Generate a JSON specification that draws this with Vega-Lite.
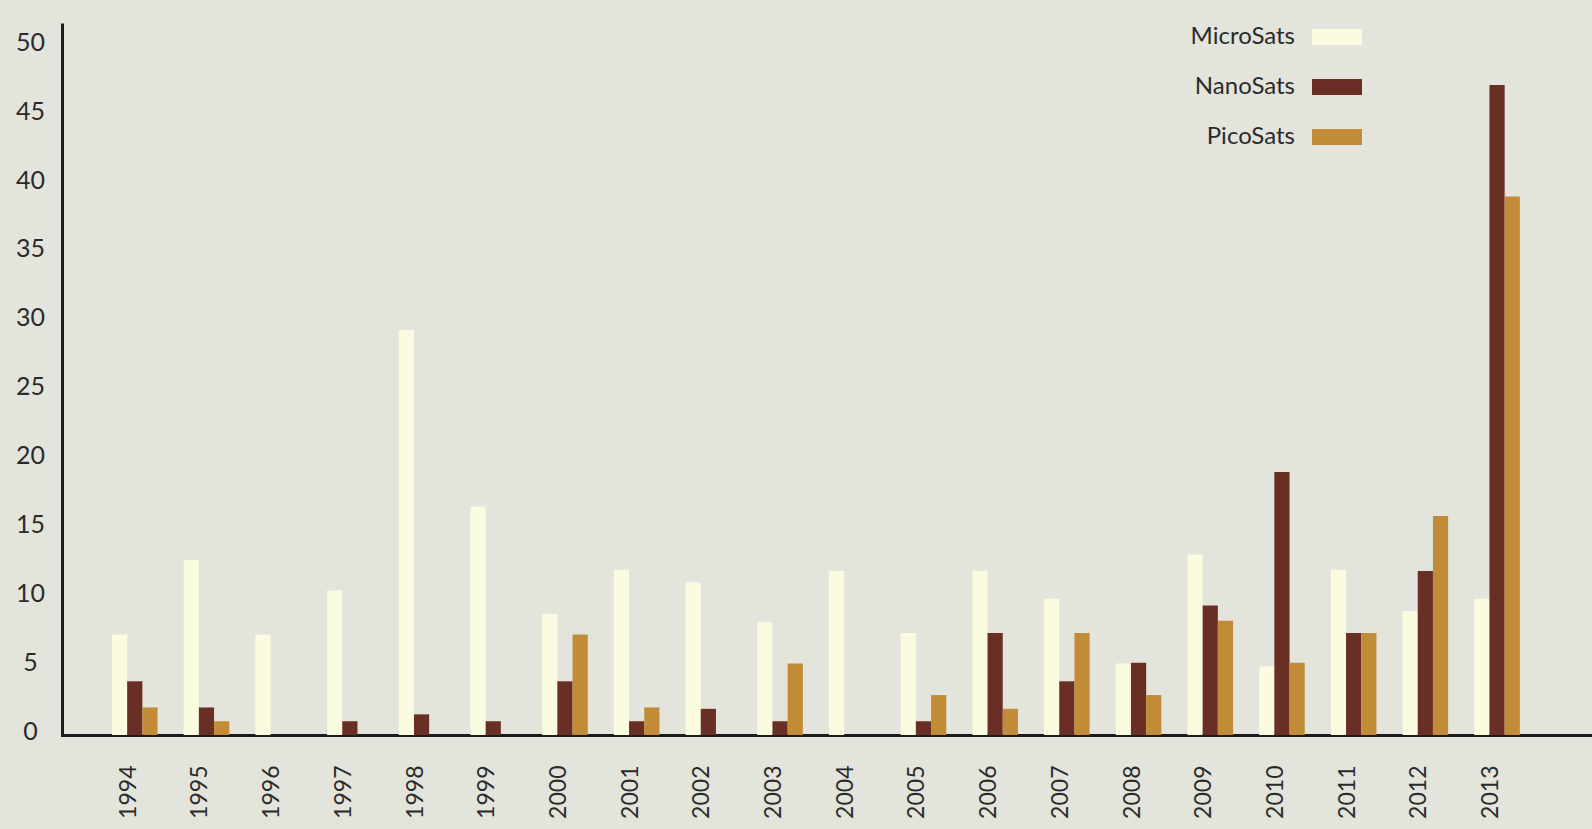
{
  "$schema": "https://vega.github.io/schema/vega-lite/v6.json",
  "autosize": {"type": "none"},
  "width": 1528,
  "height": 712,
  "padding": {"left": 62, "top": 23, "right": 2, "bottom": 94},
  "background": "#e3e4dc",
  "data": {
    "values": [
      {"year": "1994", "type": "MicroSats", "value": 7.3},
      {"year": "1994", "type": "NanoSats", "value": 3.9},
      {"year": "1994", "type": "PicoSats", "value": 2.0},
      {"year": "1995", "type": "MicroSats", "value": 12.7},
      {"year": "1995", "type": "NanoSats", "value": 2.0},
      {"year": "1995", "type": "PicoSats", "value": 1.0},
      {"year": "1996", "type": "MicroSats", "value": 7.3},
      {"year": "1996", "type": "NanoSats", "value": 0},
      {"year": "1996", "type": "PicoSats", "value": 0},
      {"year": "1997", "type": "MicroSats", "value": 10.5},
      {"year": "1997", "type": "NanoSats", "value": 1.0},
      {"year": "1997", "type": "PicoSats", "value": 0},
      {"year": "1998", "type": "MicroSats", "value": 29.4},
      {"year": "1998", "type": "NanoSats", "value": 1.5},
      {"year": "1998", "type": "PicoSats", "value": 0},
      {"year": "1999", "type": "MicroSats", "value": 16.6},
      {"year": "1999", "type": "NanoSats", "value": 1.0},
      {"year": "1999", "type": "PicoSats", "value": 0},
      {"year": "2000", "type": "MicroSats", "value": 8.8},
      {"year": "2000", "type": "NanoSats", "value": 3.9},
      {"year": "2000", "type": "PicoSats", "value": 7.3},
      {"year": "2001", "type": "MicroSats", "value": 12.0},
      {"year": "2001", "type": "NanoSats", "value": 1.0},
      {"year": "2001", "type": "PicoSats", "value": 2.0},
      {"year": "2002", "type": "MicroSats", "value": 11.1},
      {"year": "2002", "type": "NanoSats", "value": 1.9},
      {"year": "2002", "type": "PicoSats", "value": 0},
      {"year": "2003", "type": "MicroSats", "value": 8.2},
      {"year": "2003", "type": "NanoSats", "value": 1.0},
      {"year": "2003", "type": "PicoSats", "value": 5.2},
      {"year": "2004", "type": "MicroSats", "value": 11.9},
      {"year": "2004", "type": "NanoSats", "value": 0},
      {"year": "2004", "type": "PicoSats", "value": 0},
      {"year": "2005", "type": "MicroSats", "value": 7.4},
      {"year": "2005", "type": "NanoSats", "value": 1.0},
      {"year": "2005", "type": "PicoSats", "value": 2.9},
      {"year": "2006", "type": "MicroSats", "value": 11.9},
      {"year": "2006", "type": "NanoSats", "value": 7.4},
      {"year": "2006", "type": "PicoSats", "value": 1.9},
      {"year": "2007", "type": "MicroSats", "value": 9.9},
      {"year": "2007", "type": "NanoSats", "value": 3.9},
      {"year": "2007", "type": "PicoSats", "value": 7.4},
      {"year": "2008", "type": "MicroSats", "value": 5.2},
      {"year": "2008", "type": "NanoSats", "value": 5.25},
      {"year": "2008", "type": "PicoSats", "value": 2.9},
      {"year": "2009", "type": "MicroSats", "value": 13.1},
      {"year": "2009", "type": "NanoSats", "value": 9.4},
      {"year": "2009", "type": "PicoSats", "value": 8.3},
      {"year": "2010", "type": "MicroSats", "value": 5.0},
      {"year": "2010", "type": "NanoSats", "value": 19.1},
      {"year": "2010", "type": "PicoSats", "value": 5.25},
      {"year": "2011", "type": "MicroSats", "value": 12.0},
      {"year": "2011", "type": "NanoSats", "value": 7.4},
      {"year": "2011", "type": "PicoSats", "value": 7.4},
      {"year": "2012", "type": "MicroSats", "value": 9.0},
      {"year": "2012", "type": "NanoSats", "value": 11.9},
      {"year": "2012", "type": "PicoSats", "value": 15.9},
      {"year": "2013", "type": "MicroSats", "value": 9.9},
      {"year": "2013", "type": "NanoSats", "value": 47.2},
      {"year": "2013", "type": "PicoSats", "value": 39.1}
    ]
  },
  "mark": {"type": "bar"},
  "encoding": {
    "x": {
      "field": "year",
      "type": "nominal",
      "scale": {"paddingInner": 0.364, "paddingOuter": 0.8377, "align": 0.416},
      "axis": {
        "title": null,
        "labelAngle": 270,
        "labelPadding": 30,
        "labelOffset": -6,
        "labelFont": "Lato",
        "labelFontSize": 23,
        "labelColor": "#2b2b2b",
        "ticks": false,
        "domainColor": "#1c1c1c",
        "domainWidth": 3,
        "domainCap": "square"
      }
    },
    "xOffset": {
      "field": "type",
      "type": "nominal",
      "sort": ["MicroSats", "NanoSats", "PicoSats"],
      "scale": {"paddingInner": 0, "paddingOuter": 0}
    },
    "y": {
      "field": "value",
      "type": "quantitative",
      "scale": {"domain": [0, 51.7], "nice": false},
      "axis": {
        "title": null,
        "values": [0, 5, 10, 15, 20, 25, 30, 35, 40, 45, 50],
        "grid": false,
        "ticks": false,
        "labelAlign": "center",
        "labelPadding": 32,
        "labelOffset": -4,
        "labelFont": "Lato",
        "labelFontSize": 25,
        "labelColor": "#2b2b2b",
        "domainColor": "#1c1c1c",
        "domainWidth": 3
      }
    },
    "color": {
      "field": "type",
      "type": "nominal",
      "scale": {
        "domain": ["MicroSats", "NanoSats", "PicoSats"],
        "range": ["#fbfbdf", "#6a2f24", "#c18b38"]
      },
      "legend": {
        "title": null,
        "orient": "none",
        "legendX": 1250,
        "legendY": -11,
        "symbolType": "M-1,-0.32H1V0.32H-1Z",
        "symbolSize": 2500,
        "symbolStrokeWidth": 0,
        "labelAlign": "right",
        "labelOffset": -67,
        "labelFont": "Lato",
        "labelFontSize": 24,
        "labelColor": "#2b2b2b",
        "rowPadding": 13,
        "padding": 0
      }
    }
  },
  "config": {
    "view": {"stroke": null},
    "axis": {"grid": false}
  }
}
